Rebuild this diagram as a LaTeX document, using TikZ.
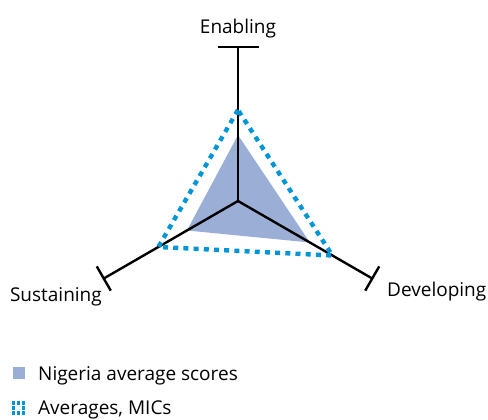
\documentclass[tikz,border=0pt]{standalone}
\usepackage{fontspec}
\setmainfont{Open Sans}
\usetikzlibrary{calc,positioning}
\definecolor{niggray}{RGB}{155,174,214}
\definecolor{micblue}{RGB}{0,150,214}

\begin{document}
\begin{tikzpicture}[x=1pt,y=1pt,
  axisline/.style={line width=2.4pt,black},
  nigfill/.style={fill=niggray},
  micline/.style={draw=micblue,line width=4.4pt,dash pattern=on 5pt off 5.2pt},
  lbl/.style={font=\fontsize{19}{22}\selectfont,inner sep=0pt}]
\useasboundingbox (0,0) rectangle (488,420);
% axes
\coordinate (c) at (238,219);
\coordinate (en) at ($(c)+(90:154)$);
\coordinate (su) at ($(c)+(210:155)$);
\coordinate (de) at ($(c)+(330:155)$);
% Nigeria scores
\coordinate (n1) at ($(c)+(90:66)$);
\coordinate (n2) at ($(c)+(210:59)$);
\coordinate (n3) at ($(c)+(330:83)$);
\fill[nigfill] (n1) -- (n2) -- (n3) -- cycle;
\draw[axisline] (c) -- (en);
\draw[axisline] (c) -- (su);
\draw[axisline] (c) -- (de);
\draw[axisline] ($(en)+(0:20.5)$) -- ($(en)+(180:20.5)$);
\draw[axisline] ($(su)+(300:14)$) -- ($(su)+(120:14)$);
\draw[axisline] ($(de)+(60:14)$) -- ($(de)+(240:14)$);
% MIC averages
\coordinate (m1) at ($(c)+(90:91)$);
\coordinate (m2) at ($(c)+(210:92)$);
\coordinate (m3) at ($(c)+(330:109)$);
\draw[micline] (m1) -- (m2) -- (m3) -- cycle;
% labels
\node[lbl,anchor=base] (enlab) at (238,386) {Enabling};
\node[lbl,anchor=base east] (sulab) at (102,118) {Sustaining};
\node[lbl,anchor=base west] (delab) at (387,123) {Developing};
% legend
\node[nigfill,minimum size=12pt,inner sep=0pt] (keynig) at (18.5,47) {};
\node[lbl,anchor=base west] (keynigtxt) at (38,39) {Nigeria average scores};
\node[minimum size=9.6pt,inner sep=0pt] (keymic) at (18.5,12) {};
\foreach \a in {north west,north,north east,east,south east,south,south west,west}
  \fill[micblue] ([shift={(-1.7,-1.7)}]keymic.\a) rectangle ++(3.4,3.4);
\node[lbl,anchor=base west] (keymictxt) at (38,5) {Averages, MICs};
\end{tikzpicture}
\end{document}
